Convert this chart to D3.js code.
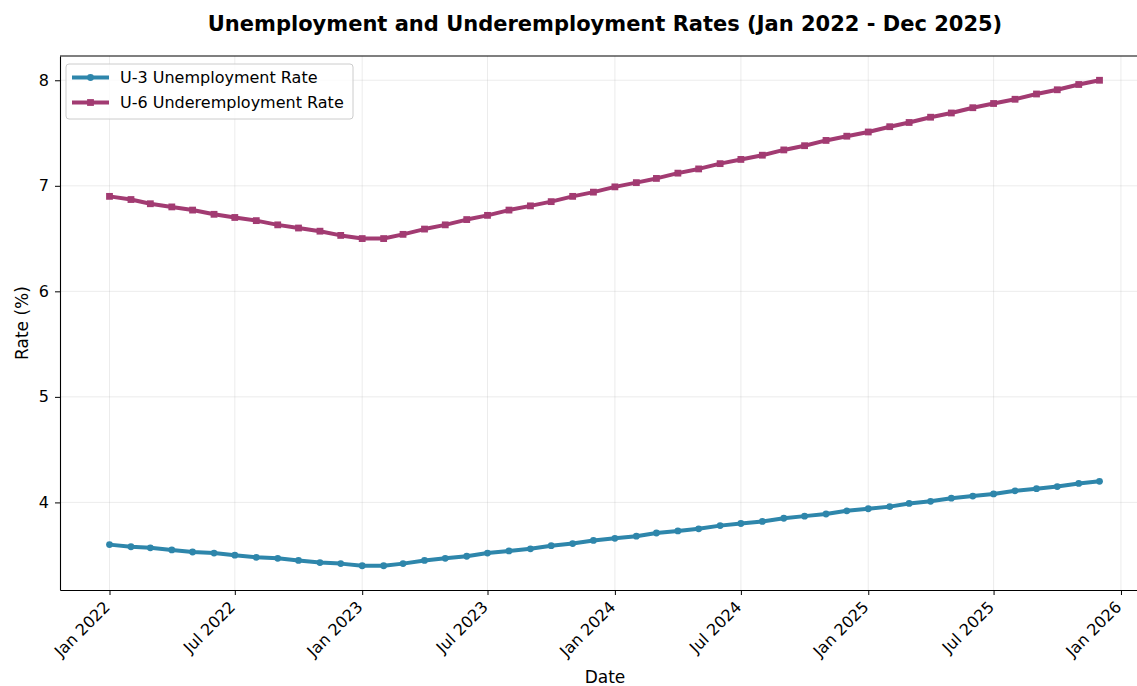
<!DOCTYPE html>
<html>
<head>
<meta charset="utf-8">
<script src="https://cdn.jsdelivr.net/npm/d3@7"></script>
<style>
  body { margin: 0; background: #fff; }
  svg { font-family: "DejaVu Sans", sans-serif; }
  .tick text { font-size: 16px; fill: #000; font-family: "DejaVu Sans", sans-serif; }
</style>
</head>
<body>
<div id="chart"></div>
<script>
// Monthly rates, Jan 2022 - Dec 2025
const u3Values = [
  3.60, 3.58, 3.57, 3.55, 3.53, 3.52, 3.50, 3.48, 3.47, 3.45, 3.43, 3.42,
  3.40, 3.40, 3.42, 3.45, 3.47, 3.49, 3.52, 3.54, 3.56, 3.59, 3.61, 3.64,
  3.66, 3.68, 3.71, 3.73, 3.75, 3.78, 3.80, 3.82, 3.85, 3.87, 3.89, 3.92,
  3.94, 3.96, 3.99, 4.01, 4.04, 4.06, 4.08, 4.11, 4.13, 4.15, 4.18, 4.20
];
const u6Values = [
  6.90, 6.87, 6.83, 6.80, 6.77, 6.73, 6.70, 6.67, 6.63, 6.60, 6.57, 6.53,
  6.50, 6.50, 6.54, 6.59, 6.63, 6.68, 6.72, 6.77, 6.81, 6.85, 6.90, 6.94,
  6.99, 7.03, 7.07, 7.12, 7.16, 7.21, 7.25, 7.29, 7.34, 7.38, 7.43, 7.47,
  7.51, 7.56, 7.60, 7.65, 7.69, 7.74, 7.78, 7.82, 7.87, 7.91, 7.96, 8.00
];
const seriesNames = ['U-3 Unemployment Rate', 'U-6 Underemployment Rate'];
const seriesColors = ['#2E86AB', '#A23B72'];
const yTicks = [4, 5, 6, 7, 8];
const xTickDates = ['2022-01', '2022-07', '2023-01', '2023-07', '2024-01', '2024-07',
                    '2025-01', '2025-07', '2026-01'];

const dates = u3Values.map((_, i) => new Date(2022, i, 1));
const series = [u3Values, u6Values].map((vals, s) => ({
  name: seriesNames[s],
  color: seriesColors[s],
  points: vals.map((v, i) => ({ date: dates[i], value: v }))
}));

// Layout
const W = 1137, H = 686;
const margin = { top: 56, right: -12, bottom: 96, left: 60 };
const plotW = W - margin.left - margin.right;
const plotH = H - margin.top - margin.bottom;

const svg = d3.select('#chart').append('svg')
  .attr('width', W).attr('height', H);

// Scales with matplotlib-like 5% padding
const dExt = d3.extent(dates);
const dPad = (dExt[1] - dExt[0]) * 0.05;
const x = d3.scaleTime()
  .domain([new Date(+dExt[0] - dPad), new Date(+dExt[1] + dPad)])
  .range([0, plotW]);

const allVals = u3Values.concat(u6Values);
const vExt = d3.extent(allVals);
const vPad = (vExt[1] - vExt[0]) * 0.05;
const y = d3.scaleLinear()
  .domain([vExt[0] - vPad, vExt[1] + vPad])
  .range([plotH, 0]);

const g = svg.append('g').attr('transform', `translate(${margin.left},${margin.top})`);

const xTicks = xTickDates.map(s => d3.timeParse('%Y-%m')(s));

// Grid
g.append('g').selectAll('line').data(xTicks).enter().append('line')
  .attr('x1', d => x(d)).attr('x2', d => x(d))
  .attr('y1', 0).attr('y2', plotH)
  .attr('stroke', '#b0b0b0').attr('stroke-opacity', 0.3).attr('stroke-width', 0.8);
g.append('g').selectAll('line').data(yTicks).enter().append('line')
  .attr('x1', 0).attr('x2', plotW)
  .attr('y1', d => y(d)).attr('y2', d => y(d))
  .attr('stroke', '#b0b0b0').attr('stroke-opacity', 0.3).attr('stroke-width', 0.8);

// Lines
const line = d3.line().x(d => x(d.date)).y(d => y(d.value));
series.forEach((s, i) => {
  g.append('path').datum(s.points)
    .attr('fill', 'none')
    .attr('stroke', s.color)
    .attr('stroke-width', 4)
    .attr('stroke-linejoin', 'round')
    .attr('d', line);
  if (i === 0) {
    g.append('g').selectAll('circle').data(s.points).enter().append('circle')
      .attr('cx', d => x(d.date)).attr('cy', d => y(d.value))
      .attr('r', 3.4).attr('fill', s.color);
  } else {
    g.append('g').selectAll('rect').data(s.points).enter().append('rect')
      .attr('x', d => x(d.date) - 3.4).attr('y', d => y(d.value) - 3.4)
      .attr('width', 6.8).attr('height', 6.8).attr('fill', s.color);
  }
});

// Axes
const xAxis = g.append('g')
  .attr('transform', `translate(0,${plotH})`)
  .call(d3.axisBottom(x).tickValues(xTicks).tickFormat(d3.timeFormat('%b %Y'))
    .tickSize(5).tickPadding(4).tickSizeOuter(0));
xAxis.selectAll('text')
  .attr('text-anchor', 'end')
  .attr('x', 0).attr('y', 0)
  .attr('dx', '0').attr('dy', '0')
  .attr('transform', 'translate(1,18) rotate(-45)');

const yAxis = g.append('g')
  .call(d3.axisLeft(y).tickValues(yTicks).tickFormat(d3.format('d'))
    .tickSize(5).tickPadding(6).tickSizeOuter(0));

[xAxis, yAxis].forEach(a => {
  a.attr('font-size', null).attr('font-family', null);
  a.selectAll('line').attr('stroke', '#000').attr('stroke-width', 1);
  a.select('.domain').attr('stroke', '#000').attr('stroke-width', 1.1);
});

// Top spine
g.append('line').attr('x1', 0).attr('x2', plotW).attr('y1', 0).attr('y2', 0)
  .attr('stroke', '#000').attr('stroke-width', 1.1);

// Titles
svg.append('text')
  .attr('x', 605).attr('y', 31)
  .attr('text-anchor', 'middle')
  .style('font-size', '21px').attr('font-weight', 'bold')
  .text('Unemployment and Underemployment Rates (Jan 2022 - Dec 2025)');

svg.append('text')
  .attr('x', 605).attr('y', 683)
  .attr('text-anchor', 'middle')
  .style('font-size', '17px')
  .text('Date');

svg.append('text')
  .attr('transform', 'translate(28,323) rotate(-90)')
  .attr('text-anchor', 'middle')
  .style('font-size', '17px')
  .text('Rate (%)');

// Legend
const legend = svg.append('g').attr('transform', 'translate(66,64)');
legend.append('rect')
  .attr('width', 287).attr('height', 55).attr('rx', 3)
  .attr('fill', '#fff').attr('fill-opacity', 0.8)
  .attr('stroke', '#cccccc');
series.forEach((s, i) => {
  const ly = 13.5 + i * 25;
  legend.append('line')
    .attr('x1', 6).attr('x2', 43).attr('y1', ly).attr('y2', ly)
    .attr('stroke', s.color).attr('stroke-width', 4);
  if (i === 0) {
    legend.append('circle').attr('cx', 24.5).attr('cy', ly).attr('r', 3.4).attr('fill', s.color);
  } else {
    legend.append('rect').attr('x', 21.1).attr('y', ly - 3.4).attr('width', 6.8).attr('height', 6.8).attr('fill', s.color);
  }
  legend.append('text')
    .attr('x', 54).attr('y', ly + 5.5)
    .style('font-size', '16px')
    .text(s.name);
});
</script>
</body>
</html>
